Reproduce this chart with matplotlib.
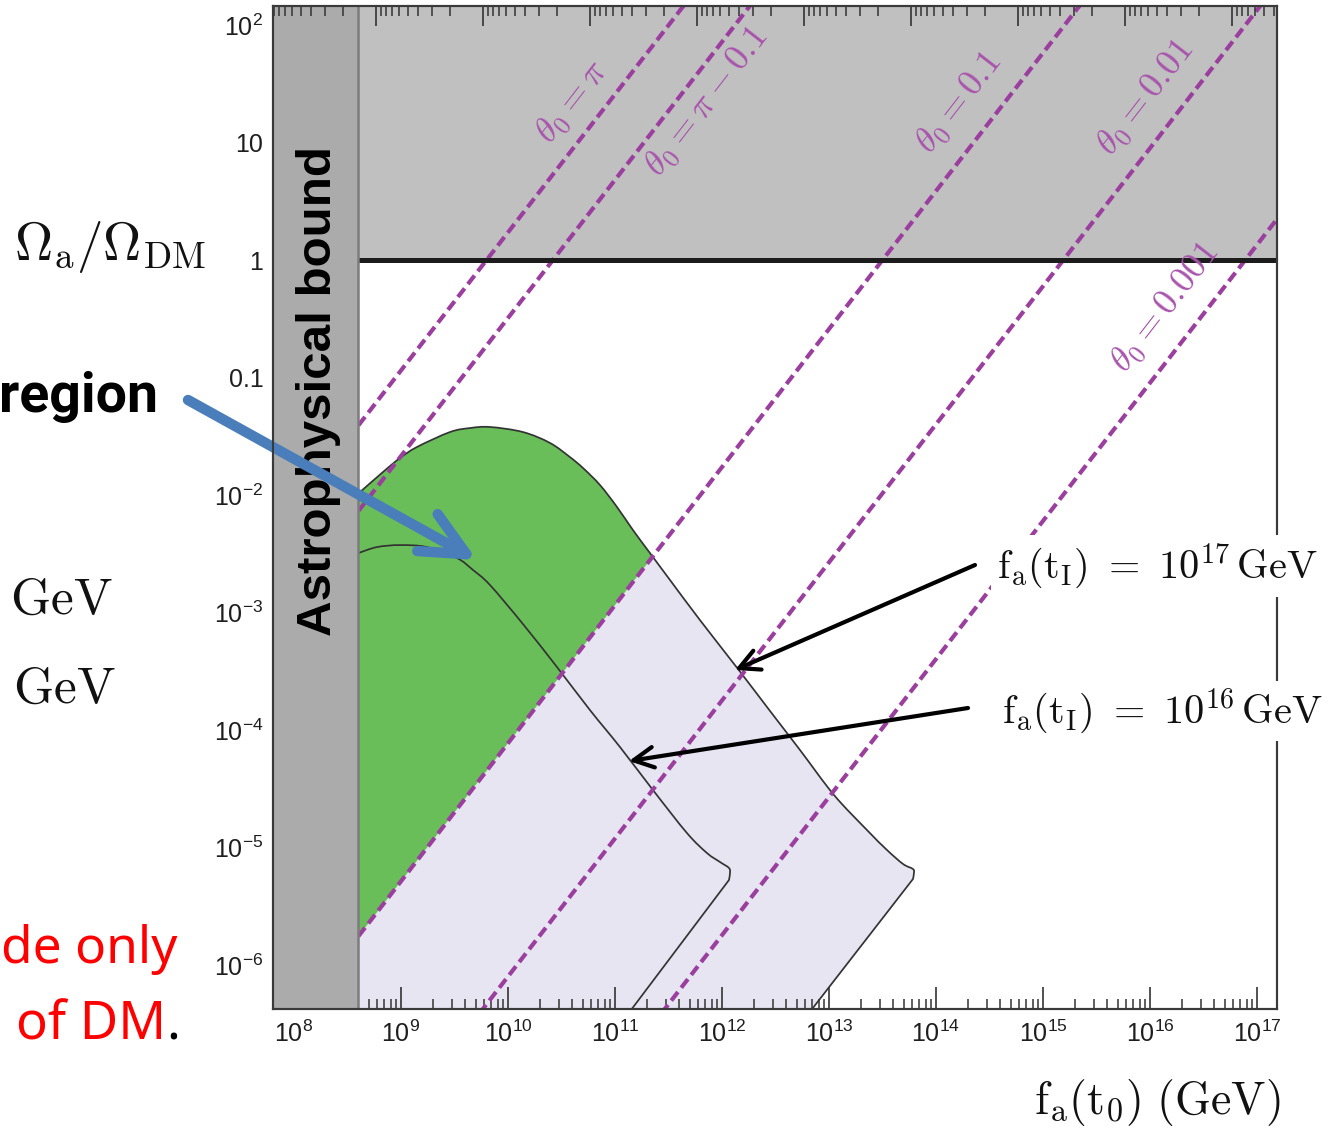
import numpy as np
import matplotlib
matplotlib.use("Agg")
import matplotlib.pyplot as plt
from matplotlib.ticker import LogLocator, NullFormatter
from matplotlib.path import Path
from matplotlib.patches import PathPatch, Polygon

plt.rcParams.update({
    "font.family": ["Liberation Sans", "DejaVu Sans"],
    "mathtext.fontset": "custom",
    "mathtext.rm": "Liberation Sans",
    "mathtext.it": "Liberation Sans:italic",
    "mathtext.bf": "Liberation Sans:bold",
})

W, H, DPI = 1338, 1128, 100

# ---------------------------------------------------------------- data
f_astro = 4.0e8            # astrophysical lower bound on f_a(t_0) [GeV]
m_scale = 5.8e12           # m_a [ueV] = m_scale / f_a [GeV]  (top axis)

# iso-misalignment lines: log10 f_a(t_0) where Omega_a = Omega_DM, common log slope
theta_names = [r"\pi", r"\pi-\mathsf{0.1}", r"\mathsf{0.1}", r"\mathsf{0.01}", r"\mathsf{0.001}"]
log_f_at_dm = [9.80, 10.42, 13.50, 15.19, 16.89]
iso_slope = 1.175

# boundary for f_a(t_I) = 1e17 GeV  (log10 f_a(t_0), log10 Omega_a/Omega_DM);
# the last point is the end of the straight lower edge
log_f_17 = [8.602, 8.832, 8.991, 9.150, 9.458, 9.645, 9.832, 10.140, 10.393, 10.579,
            10.701, 10.860, 11.019, 11.168, 11.327, 11.514, 11.794, 12.150, 12.449,
            12.729, 13.047, 13.355, 13.542, 13.692, 13.785, 13.794, 13.785, 12.650]
log_om_17 = [-1.987, -1.804, -1.685, -1.591, -1.464, -1.430, -1.421, -1.464, -1.557, -1.677,
             -1.770, -1.915, -2.102, -2.298, -2.494, -2.723, -3.064, -3.481, -3.838,
             -4.170, -4.553, -4.851, -5.021, -5.140, -5.183, -5.217, -5.268, -6.600]

# boundary for f_a(t_I) = 1e16 GeV
log_f_16 = [8.602, 8.776, 8.991, 9.243, 9.523, 9.673, 9.832, 10.140, 10.458, 10.766,
            11.047, 11.355, 11.673, 11.860, 11.981, 12.065, 12.075, 12.065, 10.970]
log_om_16 = [-2.494, -2.443, -2.426, -2.443, -2.536, -2.638, -2.766, -3.098, -3.464, -3.830,
             -4.145, -4.511, -4.877, -5.047, -5.123, -5.174, -5.217, -5.277, -6.600]

x_ticks = [1e8, 1e9, 1e10, 1e11, 1e12, 1e13, 1e14, 1e15, 1e16, 1e17]
x_ticklabels = [r"$10^{%d}$" % k for k in range(8, 18)]
y_ticks = [1e-6, 1e-5, 1e-4, 1e-3, 1e-2, 0.1, 1, 10, 100]
y_ticklabels = [r"$10^{-6}$", r"$10^{-5}$", r"$10^{-4}$", r"$10^{-3}$", r"$10^{-2}$",
                "0.1", "1", "10", r"$10^{2}$"]

# ---------------------------------------------------------------- colours
c_astro = "#ababab"
c_excl = "#c0c0c0"
c_green = "#6abe59"
c_lav = "#e7e5f2"
c_dash = "#9b3f9f"
c_dash_txt = "#a853ac"
c_curve = "#333333"
c_blue = "#4a7ebb"

fig = plt.figure(figsize=(W / DPI, H / DPI), dpi=DPI)
ax = fig.add_axes([273 / W, 1 - 1008.5 / H, 1004 / W, 1002.5 / H])
ax.set_xscale("log")
ax.set_yscale("log")
xlim = (10 ** 7.804, 10 ** 17.187)
ylim = (10 ** -6.37, 10 ** 2.162)
ax.set_xlim(*xlim)
ax.set_ylim(*ylim)
ax.autoscale(False)


def boundary_path(lf, lo, close_at=None):
    """Smooth Bezier path through the boundary points (in log space), with the
    final segment drawn as a straight edge; optionally closed at the astro bound."""
    P = np.column_stack([lf, lo])
    curved = P[:-1]
    n = len(curved)
    verts, codes = [curved[0]], [Path.MOVETO]
    for i in range(n - 1):
        p0 = curved[max(i - 1, 0)]
        p1, p2 = curved[i], curved[i + 1]
        p3 = curved[min(i + 2, n - 1)]
        verts += [p1 + (p2 - p0) / 6.0, p2 - (p3 - p1) / 6.0, p2]
        codes += [Path.CURVE4] * 3
    verts.append(P[-1])
    codes.append(Path.LINETO)
    if close_at is not None:
        verts += [close_at, close_at]
        codes += [Path.LINETO, Path.CLOSEPOLY]
    return Path(10.0 ** np.array(verts), codes)


corner = (np.log10(f_astro), log_om_17[-1])

# overproduction region
ax.fill_between([f_astro, 1e19], 1, 1e4, color=c_excl, lw=0, zorder=0.4)

# parameter space reachable with f_a(t_I) = 1e17 GeV
ax.add_patch(PathPatch(boundary_path(log_f_17, log_om_17, corner), fc=c_lav, ec="none",
                       zorder=0.5))

# the part of it lying above the theta_0 = 0.1 line
green = PathPatch(boundary_path(log_f_17, log_om_17, corner), fc=c_green, ec="none",
                  zorder=0.6)
ax.add_patch(green)
lf_clip = np.array([np.log10(f_astro), 19.0])
om_clip = iso_slope * (lf_clip - log_f_at_dm[2])
clip_poly = Polygon([(10 ** lf_clip[0], 10 ** om_clip[0]), (10 ** lf_clip[1], 10 ** om_clip[1]),
                     (10 ** lf_clip[1], 1e4), (10 ** lf_clip[0], 1e4)],
                    transform=ax.transData)
green.set_clip_path(clip_poly)

ax.add_patch(PathPatch(boundary_path(log_f_17, log_om_17), fill=False, ec=c_curve, lw=1.25,
                       zorder=1.5))
ax.add_patch(PathPatch(boundary_path(log_f_16, log_om_16), fill=False, ec=c_curve, lw=1.25,
                       zorder=1.5))

# iso-theta_0 lines
lf_line = np.array([np.log10(f_astro), 18.5])
for lf1 in log_f_at_dm:
    ax.plot(10 ** lf_line, 10 ** (iso_slope * (lf_line - lf1)), color=c_dash, lw=3.0,
            dashes=(2.6, 1.3), dash_capstyle="butt", zorder=1.8)

ax.hlines(1, f_astro, 1e19, color="#1c1c1c", lw=3.6, zorder=2.0)
ax.axvspan(1e6, f_astro, color=c_astro, lw=0, zorder=2.2)
ax.axvline(f_astro, color="#7c7c7c", lw=1.8, zorder=2.3)

ax.text(0.045, 0.616, "Astrophysical bound", transform=ax.transAxes, rotation=90,
        ha="center", va="center", fontsize=35.5, fontweight="bold", color="black",
        zorder=2.4)

# labels of iso-theta lines, rotated along the lines
p0 = ax.transData.transform((1e10, 1.0))
p1 = ax.transData.transform((1e11, 10 ** iso_slope))
ang = np.degrees(np.arctan2(p1[1] - p0[1], p1[0] - p0[0]))
lab_pos = [(10.607, 1.345), (11.869, 1.345), (14.224, 1.336), (15.963, 1.379), (16.150, -0.409)]
for name, (lx, ly) in zip(theta_names, lab_pos):
    ax.text(10 ** lx, 10 ** ly, r"$\theta_0=" + name + "$", rotation=ang,
            rotation_mode="anchor", ha="center", va="center", fontsize=26,
            color=c_dash_txt, math_fontfamily="cm", zorder=2.1)

# ticks
ax.set_xticks(x_ticks, x_ticklabels)
ax.set_yticks(y_ticks, y_ticklabels)
for a in (ax.xaxis, ax.yaxis):
    a.set_minor_locator(LogLocator(base=10, subs=np.arange(2, 10), numticks=200))
    a.set_minor_formatter(NullFormatter())
ax.tick_params(which="both", direction="in", top=False, right=False,
               color="#333333", labelcolor="#1e1e1e", labelsize=18)
ax.tick_params(which="major", length=15.5, width=1.2)
ax.tick_params(axis="x", which="major", pad=9)
ax.tick_params(axis="y", which="major", pad=7)
ax.tick_params(which="minor", length=7.5, width=1.1)

# top axis: axion mass, no labels
axt = ax.twiny()
axt.set_xscale("log")
axt.set_xlim(m_scale / xlim[0], m_scale / xlim[1])
axt.xaxis.set_major_locator(LogLocator(base=10, numticks=200))
axt.xaxis.set_minor_locator(LogLocator(base=10, subs=np.arange(2, 10), numticks=200))
axt.xaxis.set_major_formatter(NullFormatter())
axt.xaxis.set_minor_formatter(NullFormatter())
axt.tick_params(which="both", direction="in", top=True, bottom=False, labeltop=False,
                color="#333333")
axt.tick_params(which="major", length=14.5, width=1.2)
axt.tick_params(which="minor", length=7.5, width=1.1)

for a in (ax, axt):
    for s in a.spines.values():
        s.set_linewidth(1.5)
        s.set_color("#3a3a3a")


def px(x, y):
    return x / W, 1 - y / H


# axis titles
fig.text(*px(110, 247), r"$\Omega_{\mathrm{a}}/\Omega_{\mathrm{DM}}$", fontsize=38,
         ha="center", va="center", math_fontfamily="cm", color="#111111")
fig.text(*px(1157, 1102), r"$\mathrm{f}_{\mathrm{a}}(\mathrm{t}_0)\ (\mathrm{GeV})$",
         fontsize=33, ha="center", va="center", math_fontfamily="cm", color="#111111")

# curve labels and arrows
fig.text(*px(997, 566), r"$\mathrm{f}_{\mathrm{a}}(\mathrm{t}_{\mathrm{I}})\ =\ 10^{17}\,\mathrm{GeV}$",
         fontsize=29, ha="left", va="center", math_fontfamily="cm", color="#111111",
         bbox=dict(fc="white", ec="none", pad=4))
fig.text(*px(1002, 711), r"$\mathrm{f}_{\mathrm{a}}(\mathrm{t}_{\mathrm{I}})\ =\ 10^{16}\,\mathrm{GeV}$",
         fontsize=29, ha="left", va="center", math_fontfamily="cm", color="#111111",
         bbox=dict(fc="white", ec="none", pad=4))

black_arrow = dict(arrowstyle="->,head_length=0.72,head_width=0.37", color="black",
                   lw=3.0, shrinkA=0, shrinkB=0, mutation_scale=20)
ax.annotate("", xy=(10 ** 12.121, 10 ** -3.489), xycoords="data",
            xytext=(975, H - 565), textcoords="figure pixels", arrowprops=black_arrow,
            zorder=5)
ax.annotate("", xy=(10 ** 11.131, 10 ** -4.264), xycoords="data",
            xytext=(968, H - 708), textcoords="figure pixels", arrowprops=black_arrow,
            zorder=5)

blue_arrow = dict(arrowstyle="->,head_length=0.8,head_width=0.38", color=c_blue,
                  lw=7.5, shrinkA=0, shrinkB=0, mutation_scale=40,
                  capstyle="round", joinstyle="round")
ax.annotate("", xy=(10 ** 9.71, 10 ** -2.553), xycoords="data",
            xytext=(188, H - 400), textcoords="figure pixels", arrowprops=blue_arrow,
            annotation_clip=False, zorder=5)

# slide text around the chart
fig.text(*px(158, 412), "region", ha="right", va="baseline", fontsize=40,
         fontweight="bold", family="Roboto", color="black")
fig.text(*px(61, 614), r"$\mathrm{GeV}$", ha="center", va="baseline", fontsize=37,
         math_fontfamily="cm", color="#111111")
fig.text(*px(64, 703), r"$\mathrm{GeV}$", ha="center", va="baseline", fontsize=37,
         math_fontfamily="cm", color="#111111")
fig.text(*px(177, 963), "de only", ha="right", va="baseline", fontsize=37,
         family="Noto Sans", color="#ff0000")
fig.text(*px(166, 1040), "of DM", ha="right", va="baseline", fontsize=38,
         family="Noto Sans", color="#ff0000")
fig.text(*px(166, 1040), ".", ha="left", va="baseline", fontsize=37,
         family="Noto Sans", color="black")

fig.savefig("out.png", dpi=DPI)
